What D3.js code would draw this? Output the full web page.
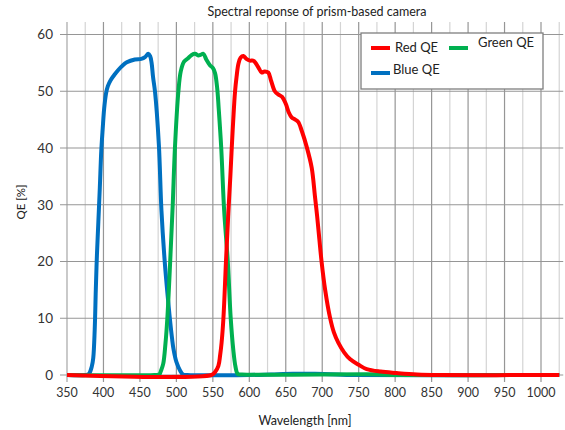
<!DOCTYPE html>
<html>
<head>
<meta charset="utf-8">
<script src="https://cdn.jsdelivr.net/npm/d3@7"></script>
<style>
  html, body { margin: 0; padding: 0; background: #fff; }
  svg { display: block; font-family: Lato, "Open Sans", sans-serif; }
</style>
</head>
<body>
<svg id="chart" width="565" height="430"></svg>
<script>
// [wavelength nm, QE %]
const blueQE = [
  [350, 0], [375, 0], [380, 0.2], [384, 1.5], [386, 3], [388, 8], [389.5, 15], [391, 21],
  [393, 27], [395, 33], [397, 39.5], [399, 43.5], [401, 47], [403.5, 49.6], [406, 50.9],
  [410, 52], [415, 52.9], [420, 53.7], [426, 54.5], [432, 55.1], [443, 55.6], [452, 55.7],
  [457, 56], [461.5, 56.6], [464, 56.2], [466, 55], [468, 52.5], [470.7, 49.9], [476, 40.5],
  [479.5, 29], [484, 20], [488, 14], [491, 10], [494, 6.5], [496, 4.6], [500, 2.3],
  [505, 0.8], [509, 0.1], [515, 0], [600, 0], [630, 0.1], [660, 0.2], [690, 0.2],
  [720, 0.1], [740, 0], [1025, 0]
];
const greenQE = [
  [350, 0], [470, 0], [476.6, 0.1], [479, 0.8], [482, 2], [485, 5.5], [487.6, 10],
  [491.5, 20], [495, 30], [498, 40], [502.7, 49.9], [506, 53.5], [510.5, 55.2], [516, 55.8],
  [521, 56.4], [525.6, 56.6], [530, 56.3], [533, 56.4], [537, 56.6], [541, 55.6],
  [546, 54.6], [550, 54.1], [553, 53.2], [556, 50.5], [558, 47], [561.5, 40], [565.5, 29],
  [570.5, 20], [574.5, 10], [578, 4.5], [581, 1.5], [584, 0.2], [590, 0.1], [780, 0.1],
  [800, 0], [1025, 0]
];
const redQE = [
  [350, 0], [548, 0], [553, 0.5], [557.6, 1.6], [560, 3.5], [562, 5.7], [564.5, 10],
  [568, 20], [571, 28], [574, 35], [576, 40.2], [578, 45], [580.4, 49.9], [582.5, 52.5],
  [585, 54.8], [588, 55.9], [592, 56.2], [596, 55.7], [601, 55.4], [605, 55.4], [608, 55.1],
  [612, 54.3], [617, 53.3], [621, 53.5], [626, 53.3], [630, 51.8], [635, 50], [640, 49.4],
  [645, 49], [650, 47.8], [654, 46.3], [658, 45.4], [663, 45], [667, 44.6], [672, 43],
  [678.7, 40.2], [685.6, 36.5], [690, 31.5], [693, 28], [696, 24], [699, 20.1], [704, 15],
  [710.7, 10.1], [716, 7.5], [722, 5.7], [730, 4], [738, 2.8], [750, 1.8], [761, 1.05],
  [780, 0.6], [802, 0.35], [830, 0.1], [860, 0], [1025, 0]
];
const xTicks = d3.range(350, 1001, 50);
const xMinor = d3.range(375, 1026, 50);
const yTicks = [0, 10, 20, 30, 40, 50, 60];
const legendItems = [
  { name: "Red QE", color: "#ff0000" },
  { name: "Green QE", color: "#00b050" },
  { name: "Blue QE", color: "#0070c0" }
];

(() => {
  const svg = d3.select("#chart");
  const x = d3.scaleLinear().domain([350, 1000]).range([67, 541]);
  const y = d3.scaleLinear().domain([0, 60]).range([375, 34.5]);
  const top = 22;
  const textColor = "#333";

  // title
  svg.append("text")
    .attr("x", 317).attr("y", 16)
    .attr("text-anchor", "middle")
    .attr("font-size", 12.5)
    .attr("fill", "#222")
    .text("Spectral reponse of prism-based camera");

  const grid = svg.append("g");
  // minor vertical lines
  grid.selectAll("line.minor")
    .data(xMinor)
    .join("line")
    .attr("class", "minor")
    .attr("x1", d => x(d)).attr("x2", d => x(d))
    .attr("y1", top).attr("y2", y(0))
    .attr("stroke", "#d4d4d4")
    .attr("stroke-width", 1.2);
  // major vertical lines + ticks
  grid.selectAll("line.major")
    .data(xTicks)
    .join("line")
    .attr("class", "major")
    .attr("x1", d => x(d)).attr("x2", d => x(d))
    .attr("y1", top).attr("y2", y(0) + 7)
    .attr("stroke", d => d === 350 ? "#a6a6a6" : "#969696")
    .attr("stroke-width", 1.2);
  // horizontal lines + ticks
  grid.selectAll("line.h")
    .data(yTicks)
    .join("line")
    .attr("class", "h")
    .attr("x1", x(350) - 7).attr("x2", x(1025) + 4)
    .attr("y1", d => y(d)).attr("y2", d => y(d))
    .attr("stroke", "#969696")
    .attr("stroke-width", 1.2);

  // tick labels
  svg.append("g").selectAll("text")
    .data(yTicks)
    .join("text")
    .attr("x", 53).attr("y", d => y(d))
    .attr("dy", "0.36em")
    .attr("text-anchor", "end")
    .attr("font-size", 13.5)
    .attr("fill", textColor)
    .text(d => d);

  svg.append("g").selectAll("text")
    .data(xTicks)
    .join("text")
    .attr("x", d => x(d)).attr("y", 397)
    .attr("text-anchor", "middle")
    .attr("font-size", 12.5)
    .attr("fill", textColor)
    .text(d => d);

  // axis titles
  svg.append("text")
    .attr("x", 305).attr("y", 425)
    .attr("text-anchor", "middle")
    .attr("font-size", 12.5)
    .attr("fill", "#222")
    .text("Wavelength [nm]");
  svg.append("text")
    .attr("transform", "translate(25,202) rotate(-90)")
    .attr("text-anchor", "middle")
    .attr("font-size", 11.5)
    .attr("fill", "#222")
    .text("QE [%]");

  // legend box (covers grid)
  const lg = svg.append("g");
  lg.append("rect")
    .attr("x", 361).attr("y", 33)
    .attr("width", 182).attr("height", 56)
    .attr("fill", "#fff")
    .attr("stroke", "#7f7f7f")
    .attr("stroke-width", 1.3);

  const line = d3.line()
    .x(d => x(d[0]))
    .y(d => y(d[1]))
    .curve(d3.curveCatmullRom.alpha(0.5));

  const series = [blueQE, greenQE, redQE];
  const colors = ["#0070c0", "#00b050", "#ff0000"];
  svg.append("g").selectAll("path")
    .data(series)
    .join("path")
    .attr("d", line)
    .attr("fill", "none")
    .attr("stroke", (d, i) => colors[i])
    .attr("stroke-width", 4)
    .attr("stroke-linejoin", "round")
    .attr("stroke-linecap", "butt");

  // legend entries
  const legendPos = [[371, 48, 395, 52], [449, 48, 478, 47], [371, 73, 393, 74]];
  const item = lg.selectAll("g.item")
    .data(legendItems)
    .join("g")
    .attr("class", "item");
  item.append("line")
    .attr("x1", (d, i) => legendPos[i][0])
    .attr("x2", (d, i) => legendPos[i][0] + 19)
    .attr("y1", (d, i) => legendPos[i][1])
    .attr("y2", (d, i) => legendPos[i][1])
    .attr("stroke", d => d.color)
    .attr("stroke-width", 4);
  item.append("text")
    .attr("x", (d, i) => legendPos[i][2])
    .attr("y", (d, i) => legendPos[i][3])
    .attr("font-size", 13)
    .attr("fill", "#222")
    .text(d => d.name);
})();
</script>
</body>
</html>
